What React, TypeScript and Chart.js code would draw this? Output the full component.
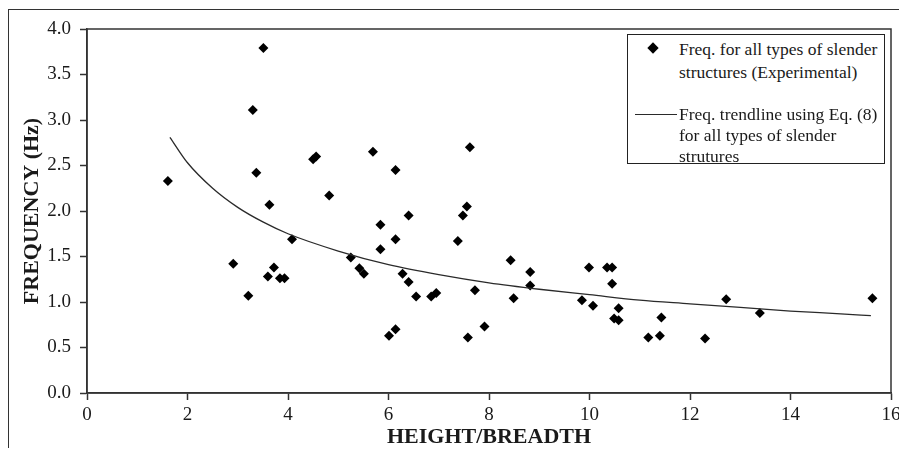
import React, { useEffect, useRef } from "react";
import { Chart, registerables } from "chart.js";

Chart.register(...registerables);

// Experimental points (height/breadth, frequency Hz)
const expX = [1.61, 2.91, 3.21, 3.30, 3.37, 3.51, 3.60, 3.63, 3.72, 3.84, 3.93, 4.08, 4.50, 4.56, 4.82, 5.25, 5.42, 5.51, 5.69, 5.84, 5.84, 6.01, 6.14, 6.14, 6.14, 6.28, 6.40, 6.40, 6.55, 6.85, 6.95, 7.38, 7.48, 7.56, 7.58, 7.62, 7.72, 7.91, 8.43, 8.49, 8.82, 8.82, 9.85, 9.99, 10.07, 10.35, 10.45, 10.45, 10.49, 10.58, 10.58, 11.17, 11.40, 11.43, 12.30, 12.72, 13.39, 15.63];
const expY = [2.33, 1.42, 1.07, 3.11, 2.42, 3.79, 1.28, 2.07, 1.38, 1.26, 1.26, 1.69, 2.57, 2.60, 2.17, 1.49, 1.37, 1.31, 2.65, 1.85, 1.58, 0.63, 0.70, 2.45, 1.69, 1.31, 1.95, 1.22, 1.06, 1.06, 1.10, 1.67, 1.95, 2.05, 0.61, 2.70, 1.13, 0.73, 1.46, 1.04, 1.33, 1.18, 1.02, 1.38, 0.96, 1.38, 1.38, 1.20, 0.82, 0.93, 0.80, 0.61, 0.63, 0.83, 0.60, 1.03, 0.88, 1.04];

// Trendline
const trendX = [1.65, 2, 2.5, 3, 3.5, 4, 5, 6, 7, 8, 9, 10, 11, 12, 13, 14, 15, 15.6];
const trendY = [2.81, 2.53, 2.25, 2.04, 1.88, 1.75, 1.56, 1.41, 1.30, 1.21, 1.14, 1.08, 1.02, 0.98, 0.94, 0.90, 0.87, 0.85];

const xTickValues = [0, 2, 4, 6, 8, 10, 12, 14, 16];
const yTickValues = [0, 0.5, 1, 1.5, 2, 2.5, 3, 3.5, 4];

const legendLabels = [
  ["Freq. for all types of slender", "structures (Experimental)"],
  ["Freq. trendline using Eq. (8)", "for all types of slender", "strutures"],
];

const SERIF = '"Liberation Serif", "Times New Roman", serif';
const INK = "#1a1a1a";

export default function App() {
  const canvasRef = useRef<HTMLCanvasElement | null>(null);

  useEffect(() => {
    document.documentElement.style.overflow = "hidden";
    document.body.style.margin = "0";
    const canvas = canvasRef.current;
    if (!canvas) return;

    const framePlugin = {
      id: "frame",
      afterDraw(chart: any) {
        const { ctx, chartArea } = chart;
        ctx.save();
        ctx.strokeStyle = "#333";
        ctx.lineWidth = 1.5;
        ctx.strokeRect(chartArea.left, chartArea.top, chartArea.right - chartArea.left, chartArea.bottom - chartArea.top);
        ctx.restore();
      },
    };

    const chart = new Chart(canvas, {
      type: "scatter",
      data: {
        datasets: [
          {
            label: "Freq. trendline using Eq. (8) for all types of slender strutures",
            data: trendX.map((x, i) => ({ x, y: trendY[i] })),
            showLine: true,
            borderColor: "#2a2a2a",
            borderWidth: 1.3,
            pointRadius: 0,
            cubicInterpolationMode: "monotone",
            fill: false,
          } as any,
          {
            label: "Freq. for all types of slender structures (Experimental)",
            data: expX.map((x, i) => ({ x, y: expY[i] })),
            pointStyle: "rectRot",
            pointRadius: 5,
            pointBackgroundColor: "#000",
            pointBorderColor: "#000",
            pointBorderWidth: 0,
            showLine: false,
          } as any,
        ],
      },
      options: {
        animation: false,
        responsive: false,
        maintainAspectRatio: false,
        layout: { padding: { top: 19, right: 8, left: 0, bottom: 0 } },
        plugins: {
          legend: { display: false },
          tooltip: { enabled: false },
        },
        scales: {
          x: {
            type: "linear",
            min: 0,
            max: 16,
            afterBuildTicks: (scale: any) => {
              scale.ticks = xTickValues.map((v) => ({ value: v }));
            },
            ticks: {
              color: INK,
              font: { family: SERIF, size: 19 },
              padding: 4,
              callback: (v: any) => String(v),
            },
            grid: { drawOnChartArea: false, drawTicks: true, tickLength: 7, tickColor: "#333", tickWidth: 1.5 },
            border: { display: true, color: "#333", width: 1.5 },
            title: {
              display: true,
              text: "HEIGHT/BREADTH",
              color: INK,
              font: { family: SERIF, size: 22, weight: "bold", lineHeight: 1 },
              padding: { top: 0, bottom: 0 },
            },
            afterFit: (scale: any) => {
              scale.height = 55;
              scale.paddingLeft = 0;
              scale.paddingRight = 0;
            },
          },
          y: {
            type: "linear",
            min: 0,
            max: 4,
            afterBuildTicks: (scale: any) => {
              scale.ticks = yTickValues.map((v) => ({ value: v }));
            },
            ticks: {
              color: INK,
              font: { family: SERIF, size: 19 },
              padding: 9,
              callback: (v: any) => Number(v).toFixed(1),
            },
            grid: { drawOnChartArea: false, drawTicks: true, tickLength: 7, tickColor: "#333", tickWidth: 1.5 },
            border: { display: true, color: "#333", width: 1.5 },
            title: {
              display: true,
              text: "FREQUENCY (Hz)",
              color: INK,
              font: { family: SERIF, size: 22, weight: "bold", lineHeight: 1 },
              padding: { top: 12, bottom: 0 },
            },
            afterFit: (scale: any) => {
              scale.width = 78;
              scale.paddingTop = 0;
              scale.paddingBottom = 0;
            },
          },
        },
      },
      plugins: [framePlugin],
    });

    return () => chart.destroy();
  }, []);

  const textStyle: React.CSSProperties = {
    position: "absolute",
    left: 51,
    fontFamily: SERIF,
    fontSize: 17.5,
    color: INK,
    whiteSpace: "nowrap",
  };

  return (
    <div
      style={{
        position: "relative",
        marginLeft: 8,
        marginTop: 9,
        width: 891,
        height: 439,
        boxSizing: "border-box",
        borderTop: "1px solid #333",
        borderLeft: "1px solid #333",
        background: "#fff",
      }}
    >
      <canvas ref={canvasRef} width={890} height={438} style={{ display: "block", width: 890, height: 438 }} />
      <div
        style={{
          position: "absolute",
          left: 618,
          top: 24,
          width: 258,
          height: 130,
          boxSizing: "border-box",
          border: "1.5px solid #222",
          background: "#fff",
        }}
      >
        <div
          style={{
            position: "absolute",
            left: 21,
            top: 9,
            width: 8,
            height: 8,
            background: "#000",
            transform: "rotate(45deg)",
          }}
        />
        <div style={{ ...textStyle, top: 3, lineHeight: "23px" }}>
          {legendLabels[0].map((t, i) => (
            <div key={i}>{t}</div>
          ))}
        </div>
        <div
          style={{
            position: "absolute",
            left: 7,
            top: 79,
            width: 42,
            height: 0,
            borderTop: "1.3px solid #2a2a2a",
          }}
        />
        <div style={{ ...textStyle, top: 69, lineHeight: "21px" }}>
          {legendLabels[1].map((t, i) => (
            <div key={i}>{t}</div>
          ))}
        </div>
      </div>
    </div>
  );
}
